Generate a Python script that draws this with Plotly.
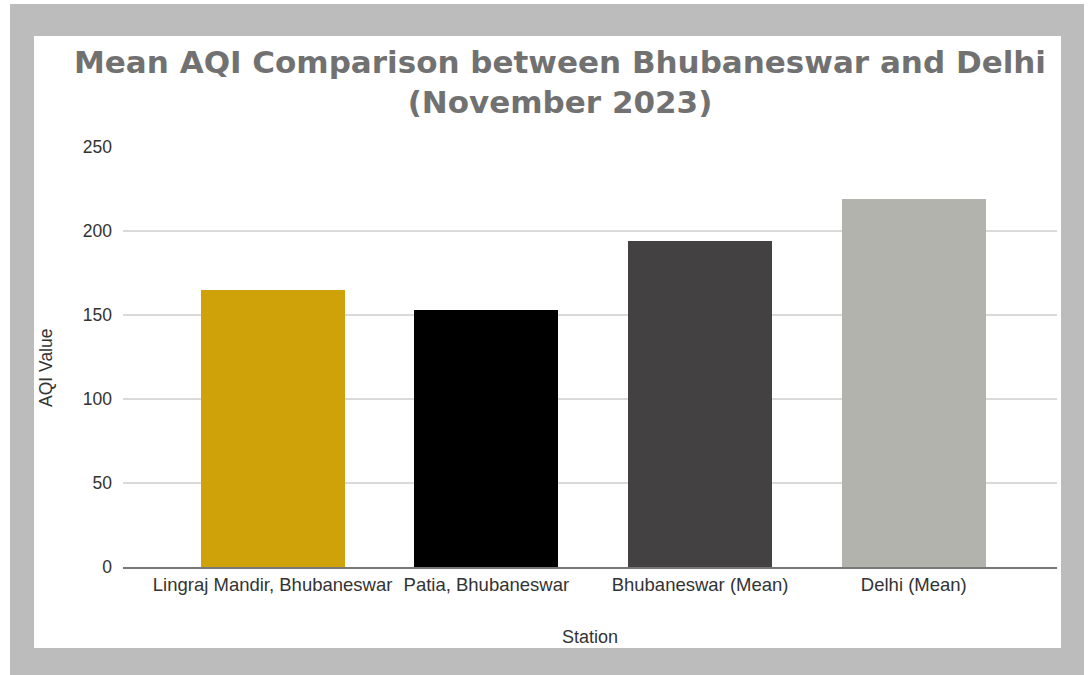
import plotly.graph_objects as go

# Mean AQI by monitoring station, November 2023
stations = ["Lingraj Mandir, Bhubaneswar", "Patia, Bhubaneswar",
            "Bhubaneswar (Mean)", "Delhi (Mean)"]
aqi_values = [165, 153, 194, 219]
bar_colors = ["#d0a20a", "#000000", "#434142", "#b3b3ae"]
y_ticks = [0, 50, 100, 150, 200, 250]

W, H = 1089, 675
L, R, T, B = 123, 1057, 147, 567  # plot area in pixels


def px_x(p):
    return (p - L) / (R - L)


def px_y(p):
    return (B - p) / (B - T)


fig = go.Figure(
    go.Bar(
        x=list(range(len(stations))),
        y=aqi_values,
        marker=dict(color=bar_colors, line=dict(width=0)),
        width=0.674,
        hoverinfo="x+y",
    )
)

# grey frame around a white card
shapes = [
    dict(type="rect", xref="paper", yref="paper", layer="below",
         x0=px_x(0), x1=px_x(W), y0=px_y(0), y1=px_y(H),
         fillcolor="#ffffff", line=dict(width=0)),
    dict(type="rect", xref="paper", yref="paper", layer="below",
         x0=px_x(10), x1=px_x(1084), y0=px_y(4), y1=px_y(H),
         fillcolor="#bcbcbc", line=dict(width=0)),
    dict(type="rect", xref="paper", yref="paper", layer="below",
         x0=px_x(34), x1=px_x(1061), y0=px_y(36), y1=px_y(648),
         fillcolor="#ffffff", line=dict(width=0)),
]

font_family = "Liberation Sans, Arial, sans-serif"
text_color = "#333333"

annotations = [
    dict(text="AQI Value", xref="paper", yref="paper",
         x=px_x(46), y=px_y(368), xanchor="center", yanchor="middle",
         textangle=-90, showarrow=False,
         font=dict(family=font_family, size=17.5, color=text_color)),
]

fig.update_layout(
    width=W, height=H,
    margin=dict(l=L, r=W - R, t=T, b=H - B, pad=0),
    paper_bgcolor="#ffffff",
    plot_bgcolor="rgba(0,0,0,0)",
    shapes=shapes,
    annotations=annotations,
    showlegend=False,
    bargap=0,
    font=dict(family=font_family, size=18, color=text_color),
    title=dict(
        text="<b>Mean AQI Comparison between Bhubaneswar and Delhi<br>(November 2023)</b>",
        font=dict(family="DejaVu Sans, Liberation Sans, sans-serif", size=31, color="#717171"),
        x=560 / W, xanchor="center",
        y=1 - 73 / H, yanchor="middle",
        xref="container", yref="container",
    ),
    xaxis=dict(
        tickmode="array",
        tickvals=list(range(len(stations))),
        ticktext=stations,
        range=[-0.70, 3.67],
        showgrid=False,
        showline=True, linecolor="#777777", linewidth=2,
        ticks="",
        tickfont=dict(size=18.5, color=text_color),
        title=dict(text="Station", font=dict(size=18, color=text_color), standoff=36),
    ),
    yaxis=dict(
        range=[0, 250],
        tickmode="array",
        tickvals=y_ticks,
        showgrid=True, gridcolor="#dadada", gridwidth=1.5,
        zeroline=False,
        showline=False,
        ticks="",
        ticklabelstandoff=10,
        tickfont=dict(size=17.5, color=text_color),
    ),
)

fig.write_html("out.html")
